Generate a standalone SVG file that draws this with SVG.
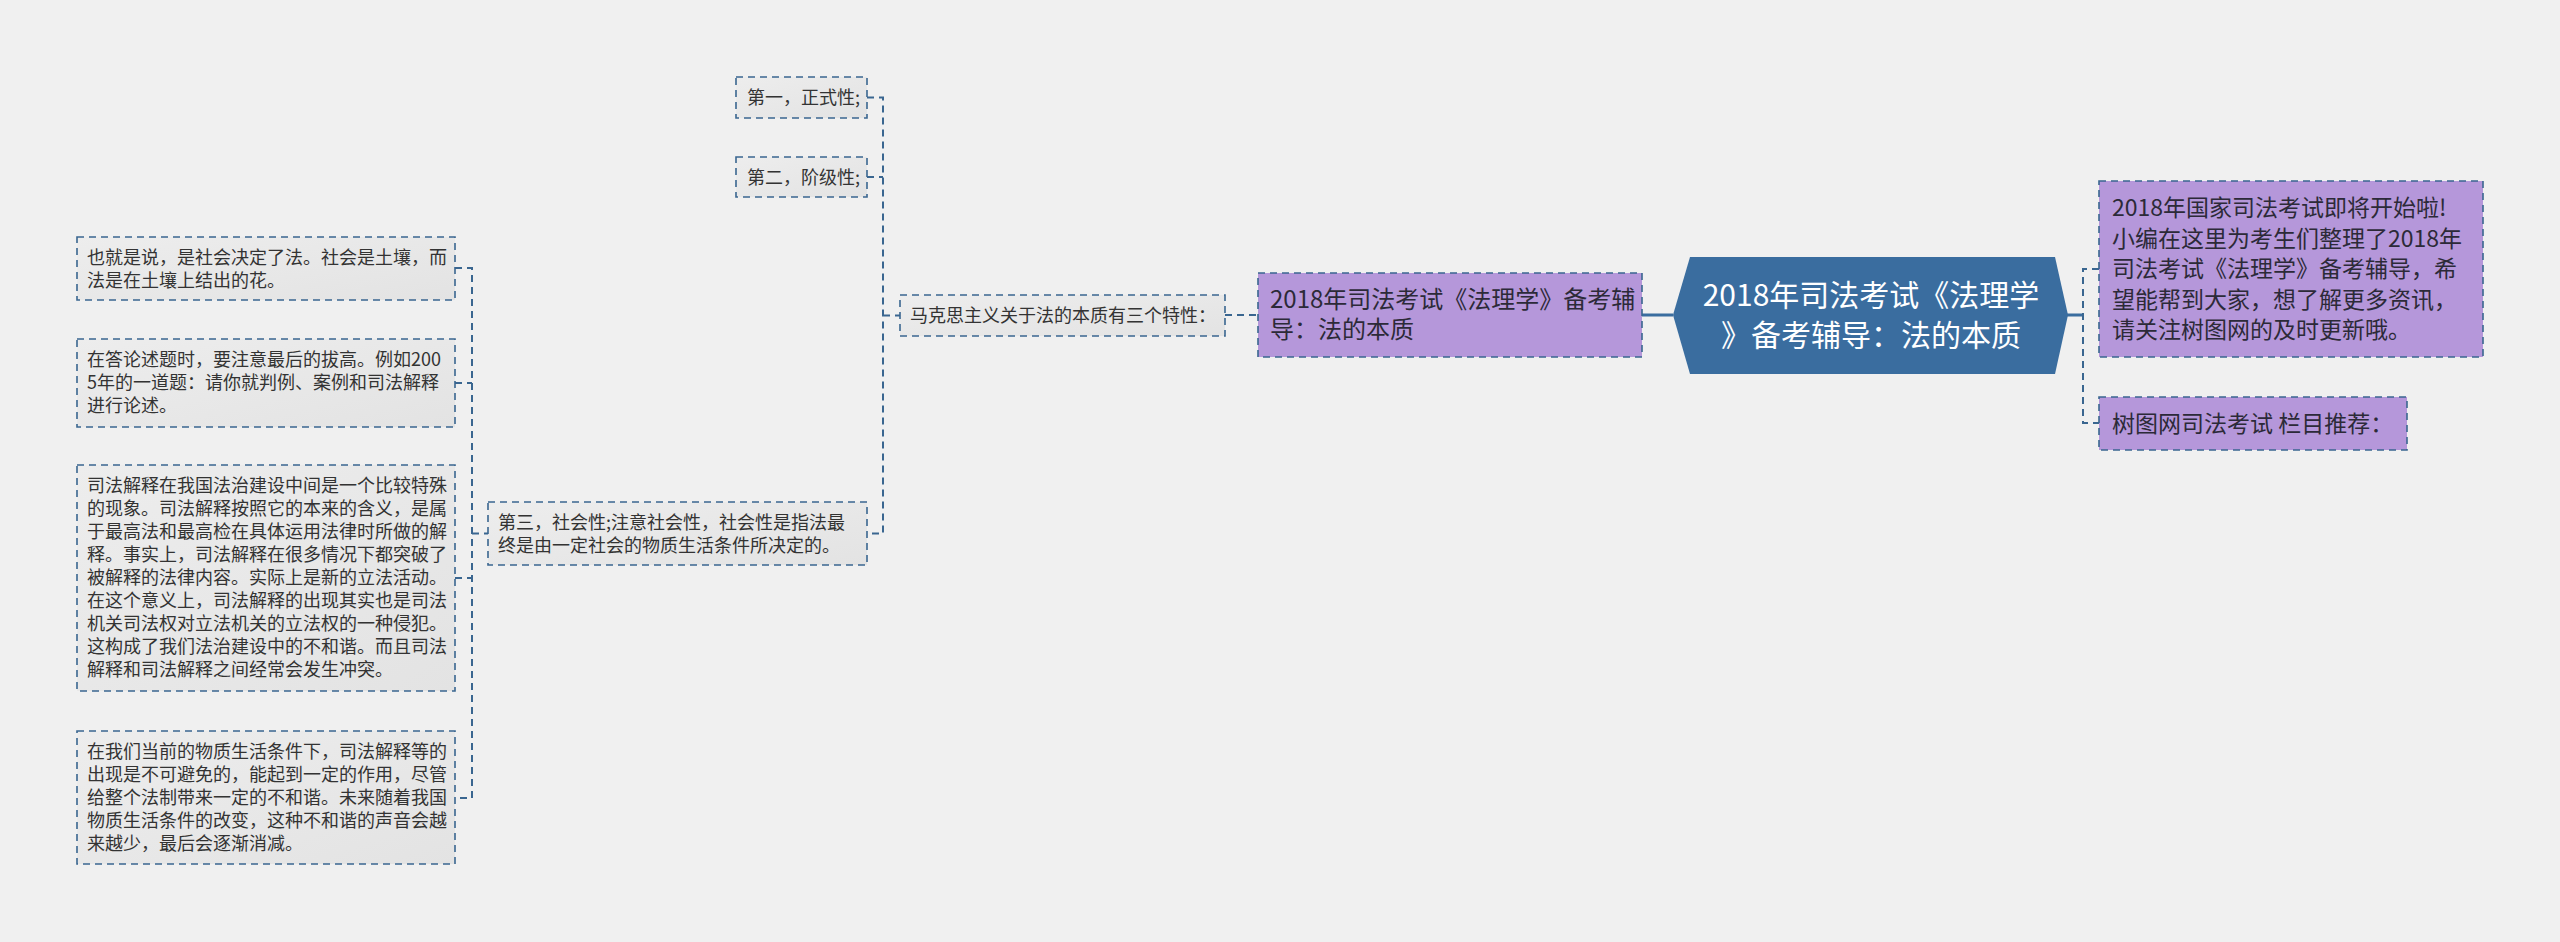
<svg xmlns="http://www.w3.org/2000/svg" width="2560" height="942" viewBox="0 0 2560 942">
<defs>
<linearGradient id="gg" x1="0" y1="0" x2="1" y2="1">
<stop offset="0" stop-color="#ededed"/>
<stop offset="1" stop-color="#e3e3e3"/>
</linearGradient>
</defs>
<style>
text{font-family:"Noto Sans CJK SC","Noto Sans",sans-serif;}
.g{fill:url(#gg);stroke:#3a6690;stroke-width:1.6;stroke-dasharray:7 5;}
.p{fill:#b597da;stroke:#3a6690;stroke-width:1.6;stroke-dasharray:7 5;}
.t18{font-size:18px;fill:#333;}
.t23{font-size:23px;fill:#2c2a38;}
.t24{font-size:24px;fill:#2c2a38;}
.root{fill:#3a6d9f;}
.rt{font-size:30px;fill:#fff;text-anchor:middle;}
.dl{fill:none;stroke:#3a6690;stroke-width:2;stroke-dasharray:7 5;}
.sl{fill:none;stroke:#3a6d9f;stroke-width:3;}
</style>
<rect width="2560" height="942" fill="#f0f0f0"/>
<g id="connectors">
<path class="sl" d="M1642 315H1673"/>
<path class="sl" d="M2067 315H2083"/>
<path class="dl" d="M2099 269H2083V423H2099"/>
<path class="dl" d="M1225 315H1258"/>
<path class="dl" d="M867 97.5H883V533.5H867M867 177H883M883 315.5H900"/>
<path class="dl" d="M455 268H472V798H455M455 383H472M455 578H472M472 533.5H488"/>
</g>
<g id="root">
<polygon class="root" points="1690,257 2055,257 2068,315 2055,374 1690,374 1673,315"/>
<text class="rt" x="1871" y="306">2018年司法考试《法理学</text>
<text class="rt" x="1871" y="346">》备考辅导：法的本质</text>
</g>
<g id="n_intro">
<rect class="p" x="2099" y="181" width="384" height="176"/>
<text class="t23" x="2112" y="216">2018年国家司法考试即将开始啦!</text>
<text class="t23" x="2112" y="247">小编在这里为考生们整理了2018年</text>
<text class="t23" x="2112" y="277">司法考试《法理学》备考辅导，希</text>
<text class="t23" x="2112" y="308">望能帮到大家，想了解更多资讯，</text>
<text class="t23" x="2112" y="338">请关注树图网的及时更新哦。</text>
</g>
<g id="n_recommend">
<rect class="p" x="2099" y="397" width="308" height="53"/>
<text class="t23" x="2112" y="432">树图网司法考试 栏目推荐：</text>
</g>
<g id="n_topic">
<rect class="p" x="1258" y="273" width="384" height="84"/>
<text class="t24" x="1270" y="308">2018年司法考试《法理学》备考辅</text>
<text class="t24" x="1270" y="338">导：法的本质</text>
</g>
<g id="n_marx">
<rect class="g" x="900" y="295" width="325" height="41"/>
<text class="t18" x="910" y="322">马克思主义关于法的本质有三个特性：</text>
</g>
<g id="n_first">
<rect class="g" x="736" y="77" width="131" height="41"/>
<text class="t18" x="747" y="104">第一，正式性;</text>
</g>
<g id="n_second">
<rect class="g" x="736" y="157" width="131" height="40"/>
<text class="t18" x="747" y="184">第二，阶级性;</text>
</g>
<g id="n_third">
<rect class="g" x="488" y="502" width="379" height="63"/>
<text class="t18" x="498" y="529">第三，社会性;注意社会性，社会性是指法最</text>
<text class="t18" x="498" y="552">终是由一定社会的物质生活条件所决定的。</text>
</g>
<g id="n_l1">
<rect class="g" x="77" y="237" width="378" height="63"/>
<text class="t18" x="87" y="264">也就是说，是社会决定了法。社会是土壤，而</text>
<text class="t18" x="87" y="287">法是在土壤上结出的花。</text>
</g>
<g id="n_l2">
<rect class="g" x="77" y="339" width="378" height="88"/>
<text class="t18" x="87" y="366">在答论述题时，要注意最后的拔高。例如200</text>
<text class="t18" x="87" y="389">5年的一道题：请你就判例、案例和司法解释</text>
<text class="t18" x="87" y="412">进行论述。</text>
</g>
<g id="n_l3">
<rect class="g" x="77" y="465" width="378" height="226"/>
<text class="t18" x="87" y="492">司法解释在我国法治建设中间是一个比较特殊</text>
<text class="t18" x="87" y="515">的现象。司法解释按照它的本来的含义，是属</text>
<text class="t18" x="87" y="538">于最高法和最高检在具体运用法律时所做的解</text>
<text class="t18" x="87" y="561">释。事实上，司法解释在很多情况下都突破了</text>
<text class="t18" x="87" y="584">被解释的法律内容。实际上是新的立法活动。</text>
<text class="t18" x="87" y="607">在这个意义上，司法解释的出现其实也是司法</text>
<text class="t18" x="87" y="630">机关司法权对立法机关的立法权的一种侵犯。</text>
<text class="t18" x="87" y="653">这构成了我们法治建设中的不和谐。而且司法</text>
<text class="t18" x="87" y="676">解释和司法解释之间经常会发生冲突。</text>
</g>
<g id="n_l4">
<rect class="g" x="77" y="731" width="378" height="133"/>
<text class="t18" x="87" y="758">在我们当前的物质生活条件下，司法解释等的</text>
<text class="t18" x="87" y="781">出现是不可避免的，能起到一定的作用，尽管</text>
<text class="t18" x="87" y="804">给整个法制带来一定的不和谐。未来随着我国</text>
<text class="t18" x="87" y="827">物质生活条件的改变，这种不和谐的声音会越</text>
<text class="t18" x="87" y="850">来越少，最后会逐渐消减。</text>
</g>
</svg>
